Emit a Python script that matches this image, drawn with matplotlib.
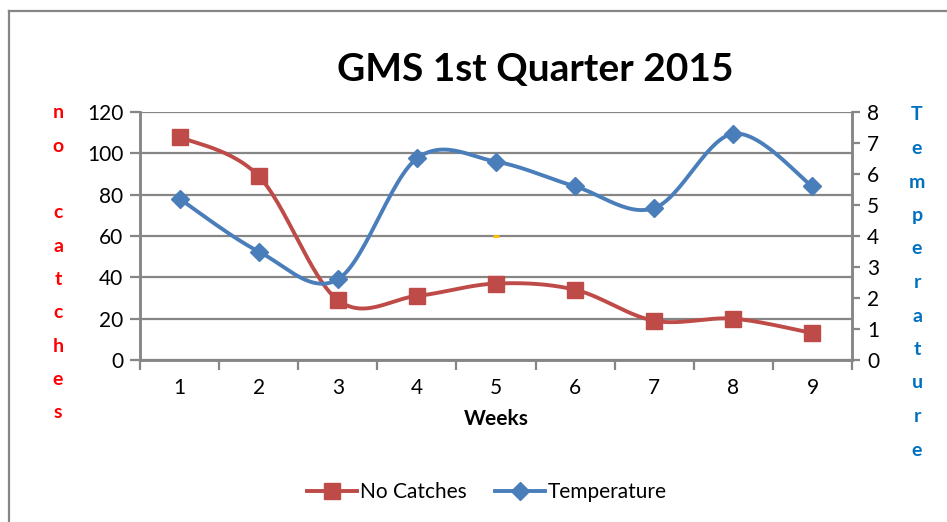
import numpy as np
import matplotlib
matplotlib.use("Agg")
import matplotlib.pyplot as plt
from matplotlib.lines import Line2D

plt.rcParams['font.family'] = ['Lato', 'DejaVu Sans']

weeks = [1, 2, 3, 4, 5, 6, 7, 8, 9]
catches = [108, 89, 29, 31, 37, 34, 19, 20, 13]
temperature = [5.2, 3.5, 2.6, 6.5, 6.4, 5.6, 4.9, 7.3, 5.6]
stray_x = [5]
stray_y = [60]

RED = '#BE4B48'
BLUE = '#4A7EBB'
GRID = '#868686'


def Smooth(x, y, n=30):
    # Excel style smoothed line: cubic bezier, control points from neighbours / 6
    x = np.asarray(x, float)
    y = np.asarray(y, float)
    px = np.concatenate(([x[0]], x, [x[-1]]))
    py = np.concatenate(([y[0]], y, [y[-1]]))
    xs, ys = [], []
    t = np.linspace(0, 1, n)
    for i in range(1, len(px) - 2):
        p0 = np.array([px[i], py[i]])
        p3 = np.array([px[i + 1], py[i + 1]])
        c1 = p0 + (np.array([px[i + 1], py[i + 1]]) - np.array([px[i - 1], py[i - 1]])) / 6
        c2 = p3 - (np.array([px[i + 2], py[i + 2]]) - np.array([px[i], py[i]])) / 6
        b = ((1 - t) ** 3)[:, None] * p0 + (3 * (1 - t) ** 2 * t)[:, None] * c1 \
            + (3 * (1 - t) * t ** 2)[:, None] * c2 + (t ** 3)[:, None] * p3
        xs.extend(b[:, 0])
        ys.extend(b[:, 1])
    return xs, ys


fig = plt.figure(figsize=(9.47, 5.22), dpi=100)
ax = fig.add_axes([140 / 947, 1 - 360 / 522, 712 / 947, 248 / 522])
ax2 = ax.twinx()

# left axis: catches
ax.set_xlim(0.5, 9.5)
ax.set_ylim(0, 120)
ax.set_yticks(range(0, 121, 20))
ax.yaxis.grid(True, color=GRID, linewidth=1.6)
ax.set_axisbelow(True)
sx, sy = Smooth(weeks, catches)
ax.plot(sx, sy, color=RED, linewidth=2.8, zorder=3)
ax.plot(weeks, catches, 's', color=RED, markersize=11, zorder=4)
ax.plot(stray_x, stray_y, '_', color='#FFC000', markersize=4, markeredgewidth=2, zorder=2)

# right axis: temperature
ax2.set_ylim(0, 8)
ax2.set_yticks(range(0, 9))
tx, ty = Smooth(weeks, temperature)
ax2.plot(tx, ty, color=BLUE, linewidth=2.8, zorder=3)
ax2.plot(weeks, temperature, 'D', color=BLUE, markersize=9.5, zorder=4)

ax.set_xticks(weeks)
ax.set_xticks(np.arange(0.5, 10, 1), minor=True)
ax.tick_params(axis='x', which='major', length=0, pad=13, labelsize=15)
ax.tick_params(axis='x', which='minor', length=7, width=1.6, color=GRID)
ax.tick_params(axis='y', length=7, width=1.6, color=GRID, labelsize=15, pad=5)
ax2.tick_params(axis='y', length=6, width=1.6, color=GRID, labelsize=15, pad=5)

for a in (ax, ax2):
    for s in a.spines.values():
        s.set_color(GRID)
        s.set_linewidth(1.8)
    a.spines['top'].set_visible(False)

ax.set_xlabel('Weeks', fontsize=15, fontweight='bold', labelpad=8)

fig.text(535 / 947, 1 - 70 / 522, 'GMS 1st Quarter 2015', fontsize=28,
         fontweight='bold', ha='center', va='center')

# stacked vertical axis titles
left_title = 'no catches'
yy = 113
for ch in left_title:
    if ch != ' ':
        fig.text(58 / 947, 1 - yy / 522, ch, color='#FF0000', fontsize=14,
                 fontweight='bold', ha='center', va='center')
    yy += 33.3

right_title = 'Temperature'
yy = 115
for ch in right_title:
    fig.text(917 / 947, 1 - yy / 522, ch, color='#0070C0', fontsize=14,
             fontweight='bold', ha='center', va='center')
    yy += 33.5

handles = [Line2D([], [], color=RED, linewidth=2.8, marker='s', markersize=11),
           Line2D([], [], color=BLUE, linewidth=2.8, marker='D', markersize=9.5)]
fig.legend(handles, ['No Catches', 'Temperature'], loc='center',
           bbox_to_anchor=(487 / 947, 1 - 492 / 522), ncol=2, frameon=False,
           fontsize=15, handlelength=2.4, handletextpad=0.1, columnspacing=1.4)

# chart area border (left and top edges visible)
fig.add_artist(Line2D([8.5 / 947, 8.5 / 947], [0, 1 - 10.5 / 522], color=GRID, linewidth=1.6))
fig.add_artist(Line2D([8.5 / 947, 1], [1 - 10.5 / 522, 1 - 10.5 / 522], color=GRID, linewidth=1.6))

fig.savefig('out.png', dpi=100)
